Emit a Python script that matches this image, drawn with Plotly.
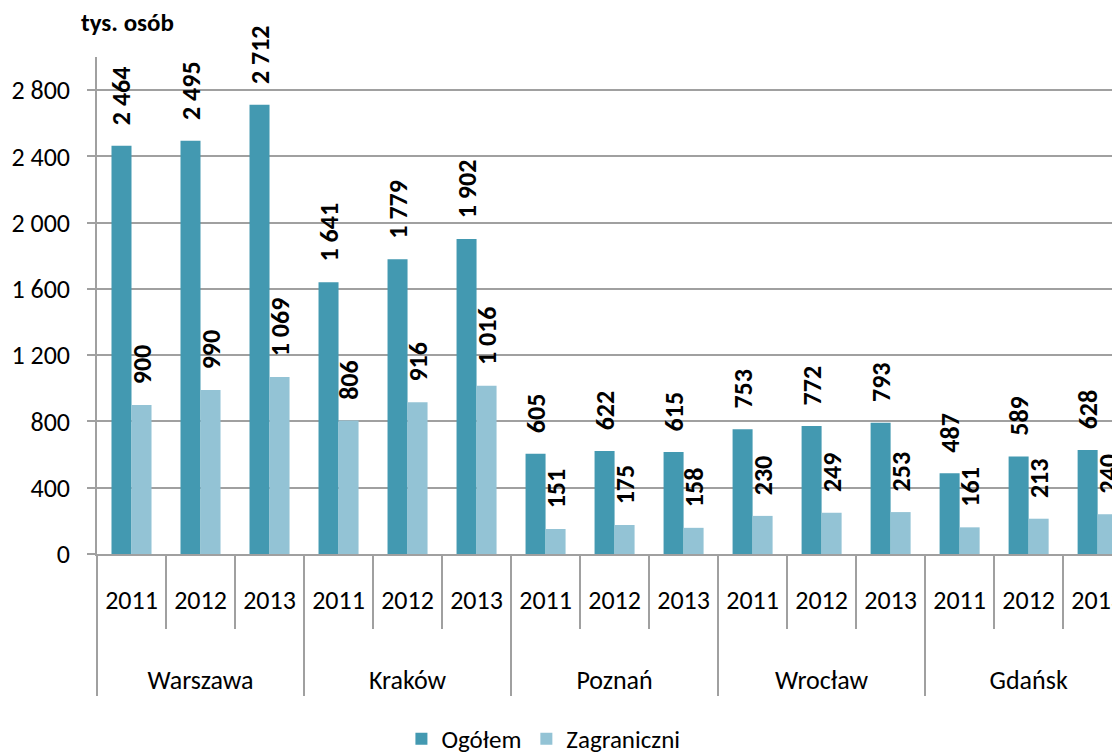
import plotly.graph_objects as go

miasta = ["Warszawa", "Kraków", "Poznań", "Wrocław", "Gdańsk"]
lata = ["2011", "2012", "2013"]
ogolem = [2464, 2495, 2712, 1641, 1779, 1902, 605, 622, 615, 753, 772, 793, 487, 589, 628]
zagraniczni = [900, 990, 1069, 806, 916, 1016, 151, 175, 158, 230, 249, 253, 161, 213, 240]

# dwupoziomowa oś: miasto / rok (puste linie odsuwają nazwy miast niżej)
x = [["<br>" + m for m in miasta for _ in lata],
     [r + "<br>\u00a0" for _ in miasta for r in lata]]

FONT = "Carlito, Lato, sans-serif"
SP = "\u00a0\u00a0\u00a0"

fig = go.Figure()
fig.add_trace(go.Bar(
    x=x, y=ogolem, name="Ogółem",
    marker=dict(color="#4399B1", line=dict(width=0)),
    texttemplate=SP + "%{y:,}", textposition="outside", textangle=-90,
    textfont=dict(family=FONT, size=26, color="black", weight="bold"),
    cliponaxis=False, constraintext="none",
))
fig.add_trace(go.Bar(
    x=x, y=zagraniczni, name="Zagraniczni",
    marker=dict(color="#93C3D5", line=dict(width=0)),
    texttemplate=SP + "%{y:,}", textposition="outside", textangle=-90,
    textfont=dict(family=FONT, size=26, color="black", weight="bold"),
    cliponaxis=False, constraintext="none",
))

# strona ma 8 px marginesu body, stąd mniejsze marginesy lewy/górny
fig.update_layout(
    width=1120, height=754,
    margin=dict(l=89, r=0, t=49, b=208),
    paper_bgcolor="white", plot_bgcolor="white",
    separators=", ",
    barmode="group", bargap=0.42, bargroupgap=0,
    font=dict(family=FONT, size=26, color="black"),
    showlegend=True,
    legend=dict(orientation="h", x=0.433, xanchor="center", y=-0.372, yanchor="middle",
                font=dict(size=25), traceorder="normal"),
    annotations=[dict(text="<b>tys. osób</b>", xref="paper", yref="paper",
                      x=-0.017, y=1.07, xanchor="left", yanchor="middle",
                      showarrow=False, font=dict(size=25))],
)
fig.update_yaxes(
    range=[0, 3000], tickvals=[0, 400, 800, 1200, 1600, 2000, 2400, 2800],
    tickformat=",d", showgrid=True, gridcolor="#A0A0A0", gridwidth=1.5,
    showline=True, linecolor="#A0A0A0", linewidth=1.5,
    ticks="outside", ticklen=8, tickcolor="#A0A0A0", tickwidth=1.5,
    ticklabelstandoff=12,
    zeroline=False, automargin=False,
)
fig.update_xaxes(
    type="multicategory", range=[-0.5, 14.44],
    showline=True, linecolor="#A0A0A0", linewidth=1.5,
    ticks="outside", tickson="boundaries", ticklen=73, tickcolor="#A0A0A0", tickwidth=1.5,
    ticklabelstandoff=22,
    showdividers=True, dividercolor="#A0A0A0", dividerwidth=1.5,
    showgrid=False, automargin=False,
)

fig.write_html("out.html")
